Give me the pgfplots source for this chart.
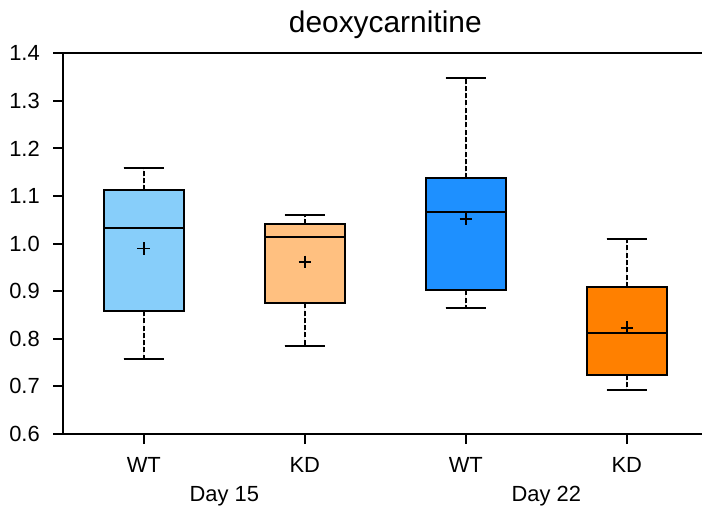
\documentclass[border=0pt]{standalone}
\usepackage{fontspec}
\setmainfont{Liberation Sans}
\usepackage{pgfplots}
\pgfplotsset{compat=1.18}
\usepgfplotslibrary{statistics}
\definecolor{wtA}{HTML}{87CEFA}
\definecolor{kdA}{HTML}{FFC080}
\definecolor{wtB}{HTML}{1E90FF}
\definecolor{kdB}{HTML}{FF8000}
\begin{document}
\begin{tikzpicture}
\begin{axis}[
  name=ax,
  scale only axis, width=644bp, height=380.7bp,
  xmin=-0.5, xmax=3.5, ymin=0.6, ymax=1.4,
  xtick={0,1,2,3}, xticklabels={WT,KD,WT,KD},
  ytick={0.6,0.7,0.8,0.9,1.0,1.1,1.2,1.3,1.4},
  yticklabel style={/pgf/number format/fixed, /pgf/number format/fixed zerofill, /pgf/number format/precision=1, xshift=-10bp},
  xticklabel style={yshift=-10bp},
  /pgf/number format/assume math mode=true,
  tick label style={font=\fontsize{22}{26}\selectfont},
  xtick pos=bottom, ytick pos=left, tick align=outside,
  major tick length=10bp,
  every tick/.style={black, line width=2bp},
  axis line style={draw=none},
  boxplot/draw direction=y,
  boxplot/box extend=0.5, boxplot/whisker extend=0.25,
  boxplot/draw/lower whisker/.code={
    \draw[black, line width=2bp, dash pattern=on 5bp off 2.3bp] (boxplot box cs:\pgfplotsboxplotvalue{lower quartile},0.5) -- (boxplot box cs:\pgfplotsboxplotvalue{lower whisker},0.5);
    \draw[black, line width=2bp] (boxplot whisker cs:\pgfplotsboxplotvalue{lower whisker},0) -- (boxplot whisker cs:\pgfplotsboxplotvalue{lower whisker},1);
  },
  boxplot/draw/upper whisker/.code={
    \draw[black, line width=2bp, dash pattern=on 5bp off 2.3bp] (boxplot box cs:\pgfplotsboxplotvalue{upper quartile},0.5) -- (boxplot box cs:\pgfplotsboxplotvalue{upper whisker},0.5);
    \draw[black, line width=2bp] (boxplot whisker cs:\pgfplotsboxplotvalue{upper whisker},0) -- (boxplot whisker cs:\pgfplotsboxplotvalue{upper whisker},1);
  },
  boxplot/every median/.style={line width=2bp},
  clip=false,
]
\addplot[boxplot prepared={lower whisker=0.758, lower quartile=0.8585, median=1.033, upper quartile=1.112, upper whisker=1.160, draw position=0}, fill=wtA, draw=black, line width=2bp, solid] coordinates {};
\addplot[boxplot prepared={lower whisker=0.7856, lower quartile=0.8747, median=1.013, upper quartile=1.041, upper whisker=1.060, draw position=1}, fill=kdA, draw=black, line width=2bp, solid] coordinates {};
\addplot[boxplot prepared={lower whisker=0.8655, lower quartile=0.902, median=1.066, upper quartile=1.137, upper whisker=1.3475, draw position=2}, fill=wtB, draw=black, line width=2bp, solid] coordinates {};
\addplot[boxplot prepared={lower whisker=0.692, lower quartile=0.725, median=0.812, upper quartile=0.909, upper whisker=1.010, draw position=3}, fill=kdB, draw=black, line width=2bp, solid] coordinates {};
\addplot[only marks, mark=+, mark size=6.3bp, mark options={line width=1.8bp, black}] coordinates {(0,0.990) (1,0.9615) (2,1.052) (3,0.8235)};
\draw[black, line width=2.2bp] (axis cs:3.47,1.4) -- (axis cs:-0.5,1.4) -- (axis cs:-0.5,0.6) -- (axis cs:3.47,0.6);
\node[anchor=base, yshift=-67.5bp, font=\fontsize{22}{26}\selectfont] at (axis cs:0.5,0.6) {Day 15};
\node[anchor=base, yshift=-67.5bp, font=\fontsize{22}{26}\selectfont] at (axis cs:2.5,0.6) {Day 22};
\node[anchor=base, yshift=21bp, font=\fontsize{30}{35}\selectfont] at (axis cs:1.5,1.4) {deoxycarnitine};
\end{axis}
\pgfresetboundingbox
\path[use as bounding box] (-63.3bp,-80bp) rectangle (638.7bp,434bp);
\end{tikzpicture}
\end{document}
